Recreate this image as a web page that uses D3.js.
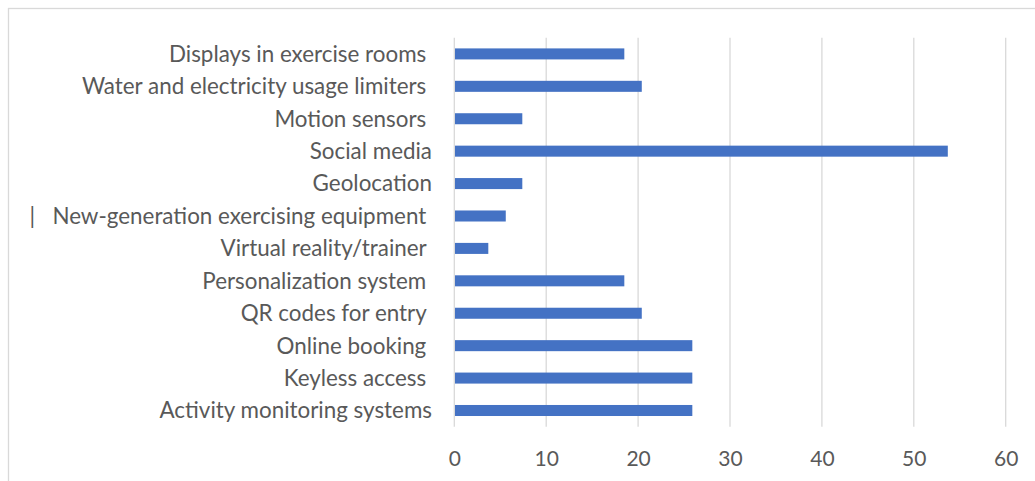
<!DOCTYPE html>
<html>
<head>
<meta charset="utf-8">
<script src="https://cdn.jsdelivr.net/npm/d3@7/dist/d3.min.js"></script>
<style>
  html, body { margin: 0; padding: 0; background: #fff; }
  svg { display: block; }
  text { font-family: Lato, "Open Sans", sans-serif; fill: #595959; white-space: pre; }
</style>
</head>
<body>
<svg id="chart" width="1035" height="481"></svg>
<script>
// Categories, top to bottom (some carry a trailing space as in the source sheet)
const categories = [
  "Displays in exercise rooms ",
  "Water and electricity usage limiters ",
  "Motion sensors ",
  "Social media",
  "Geolocation",
  "|   New-generation exercising equipment ",
  "Virtual reality/trainer ",
  "Personalization system ",
  "QR codes for entry ",
  "Online booking ",
  "Keyless access ",
  "Activity monitoring systems"
];

// Share of respondents (%)
const values = [18.5, 20.4, 7.4, 53.7, 7.4, 5.6, 3.7, 18.5, 20.4, 25.9, 25.9, 25.9];

const xTicks = [0, 10, 20, 30, 40, 50, 60];

const data = categories.map((c, i) => ({ name: c, value: values[i] }));

const svg = d3.select("#chart");

// Outer chart frame (runs past the right and bottom edges)
svg.append("rect")
  .attr("x", 8.5).attr("y", 8.5)
  .attr("width", 1100).attr("height", 600)
  .attr("fill", "none")
  .attr("stroke", "#d9d9d9")
  .attr("stroke-width", 1.3);

const plot = { left: 454.3, right: 1005.7, top: 37.7, bottom: 426.7 };

const x = d3.scaleLinear().domain([0, 60]).range([plot.left, plot.right]);
const y = d3.scaleBand()
  .domain(categories)
  .range([plot.top, plot.bottom])
  .paddingInner(0.66)
  .paddingOuter(0.33);

// Vertical gridlines
svg.append("g")
  .selectAll("line")
  .data(xTicks)
  .join("line")
  .attr("x1", d => x(d)).attr("x2", d => x(d))
  .attr("y1", plot.top).attr("y2", plot.bottom)
  .attr("stroke", "#d9d9d9")
  .attr("stroke-width", 1.3);

// Bars
svg.append("g")
  .selectAll("rect")
  .data(data)
  .join("rect")
  .attr("x", x(0) + 0.7)
  .attr("y", d => y(d.name))
  .attr("width", d => x(d.value) - x(0) - 0.7)
  .attr("height", y.bandwidth())
  .attr("fill", "#4472c4");

// X axis tick labels
const xAxis = d3.axisBottom(x).tickValues(xTicks).tickSize(0).tickPadding(0);
const gx = svg.append("g")
  .attr("transform", `translate(0,${plot.bottom})`)
  .call(xAxis);
gx.select(".domain").remove();
gx.selectAll("text")
  .attr("y", 39)
  .attr("dy", 0)
  .style("font-size", "21px")
  .style("font-family", "Lato, 'Open Sans', sans-serif")
  .attr("fill", "#595959");

// Category labels
const yAxis = d3.axisLeft(y).tickSize(0).tickPadding(0);
const gy = svg.append("g")
  .attr("transform", `translate(432,0)`)
  .call(yAxis);
gy.select(".domain").remove();
gy.selectAll("text")
  .attr("x", 0)
  .attr("dy", "0.35em")
  .style("font-size", "22.4px")
  .style("font-family", "Lato, 'Open Sans', sans-serif")
  .attr("fill", "#595959");
</script>
</body>
</html>
